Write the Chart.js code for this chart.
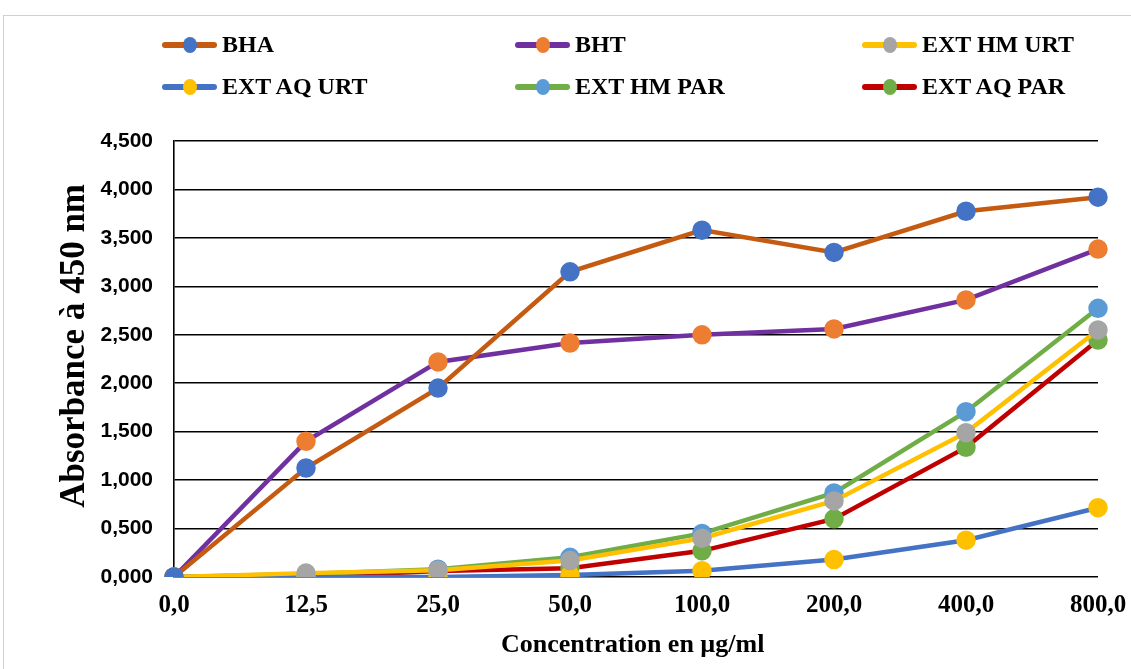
<!DOCTYPE html>
<html>
<head>
<meta charset="utf-8">
<script src="https://cdn.jsdelivr.net/npm/chart.js@4.4.1/dist/chart.umd.min.js"></script>
<style>
  body { margin: 0; background: #fff; }
  #wrap { position: relative; width: 1131px; height: 669px; overflow: hidden; }
  #frame { position: absolute; left: 3px; top: 15px; width: 1140px; height: 700px; border: 1px solid #d0d0d0; }
  #chart { position: absolute; left: 0; top: 0; }
  .leg { position: absolute; display: flex; align-items: center; font: bold 24px "Liberation Serif", "Times New Roman", serif; color: #000; }
  .leg span.mk { position: relative; display: inline-block; width: 55px; height: 6px; border-radius: 3px; margin-right: 5px; }
  .leg span.mk i { position: absolute; left: 21px; top: -5px; width: 14px; height: 16px; border-radius: 50%; }
</style>
</head>
<body>
<div id="wrap">
  <div id="frame"></div>
  <canvas id="chart" width="1131" height="669"></canvas>
  <div id="legend"></div>
</div>
<script>
const concentrations = ["0,0", "12,5", "25,0", "50,0", "100,0", "200,0", "400,0", "800,0"];
const seriesNames = ["BHA", "BHT", "EXT HM URT", "EXT AQ URT", "EXT HM PAR", "EXT AQ PAR"];
const bha = [0, 1.125, 1.95, 3.15, 3.58, 3.35, 3.775, 3.92];
const bht = [0, 1.40, 2.22, 2.415, 2.50, 2.56, 2.86, 3.385];
const extHmUrt = [0, 0.04, 0.07, 0.17, 0.40, 0.785, 1.49, 2.55];
const extAqUrt = [0, 0.0, 0.0, 0.02, 0.065, 0.18, 0.38, 0.715];
const extHmPar = [0, 0.03, 0.08, 0.203, 0.45, 0.867, 1.706, 2.773];
const extAqPar = [0, 0.0, 0.062, 0.09, 0.27, 0.60, 1.338, 2.446];
const lineColors = ["#c55a11", "#7030a0", "#ffc000", "#4472c4", "#70ad47", "#c00000"];
const pointColors = ["#4472c4", "#ed7d31", "#a5a5a5", "#ffc000", "#5b9bd5", "#70ad47"];
const allValues = [bha, bht, extHmUrt, extAqUrt, extHmPar, extAqPar];

const serif = "'Liberation Serif', 'Times New Roman', serif";
const sans = "'Liberation Sans', Arial, sans-serif";

const datasets = seriesNames.map((name, i) => ({
  label: name,
  data: allValues[i],
  borderColor: lineColors[i],
  backgroundColor: pointColors[i],
  pointBackgroundColor: pointColors[i],
  pointBorderColor: pointColors[i],
  borderWidth: 4.5,
  pointRadius: 7.5,
  pointHoverRadius: 7.5,
  tension: 0,
  order: i
}));

const fmt = (v) => Number(v).toFixed(3).replace(".", ",");

new Chart(document.getElementById("chart").getContext("2d"), {
  type: "line",
  data: { labels: concentrations, datasets },
  options: {
    responsive: false,
    animation: false,
    layout: { padding: { left: 50, top: 141, right: 33, bottom: 4 } },
    plugins: { legend: { display: false }, tooltip: { enabled: false } },
    scales: {
      x: {
        offset: false,
        grid: { display: false, drawTicks: false },
        border: { display: false },
        ticks: { color: "#000", font: { family: serif, size: 25, weight: "bold" }, padding: 14, maxRotation: 0 },
        title: { display: true, text: "Concentration en µg/ml ", color: "#000", font: { family: serif, size: 26, weight: "bold" }, padding: { top: 12 } },
        afterFit: (s) => { s.height = 669 - 577 - 4; s.paddingLeft = 0; s.paddingRight = 0; }
      },
      y: {
        min: 0,
        max: 4.5,
        ticks: { stepSize: 0.5, color: "#000", font: { family: sans, size: 21, weight: "bold" }, padding: 21, callback: (v) => fmt(v) },
        grid: { color: "#000", lineWidth: 1.6, drawTicks: false },
        border: { display: true, color: "#000", width: 1.6 },
        title: { display: true, text: "   Absorbance à 450 nm", color: "#000", font: { family: serif, size: 35, weight: "bold" }, padding: { bottom: 2 } },
        afterFit: (s) => { s.width = 174 - 50; }
      }
    }
  }
});

const legendPos = [[162, 45], [515, 45], [862, 45], [162, 87], [515, 87], [862, 87]];
const legendEl = document.getElementById("legend");
seriesNames.forEach((name, i) => {
  const d = document.createElement("div");
  d.className = "leg";
  d.style.left = legendPos[i][0] + "px";
  d.style.top = (legendPos[i][1] - 14) + "px";
  d.innerHTML = `<span class="mk" style="background:${lineColors[i]}"><i style="background:${pointColors[i]}"></i></span>${name}`;
  legendEl.appendChild(d);
});
</script>
</body>
</html>
